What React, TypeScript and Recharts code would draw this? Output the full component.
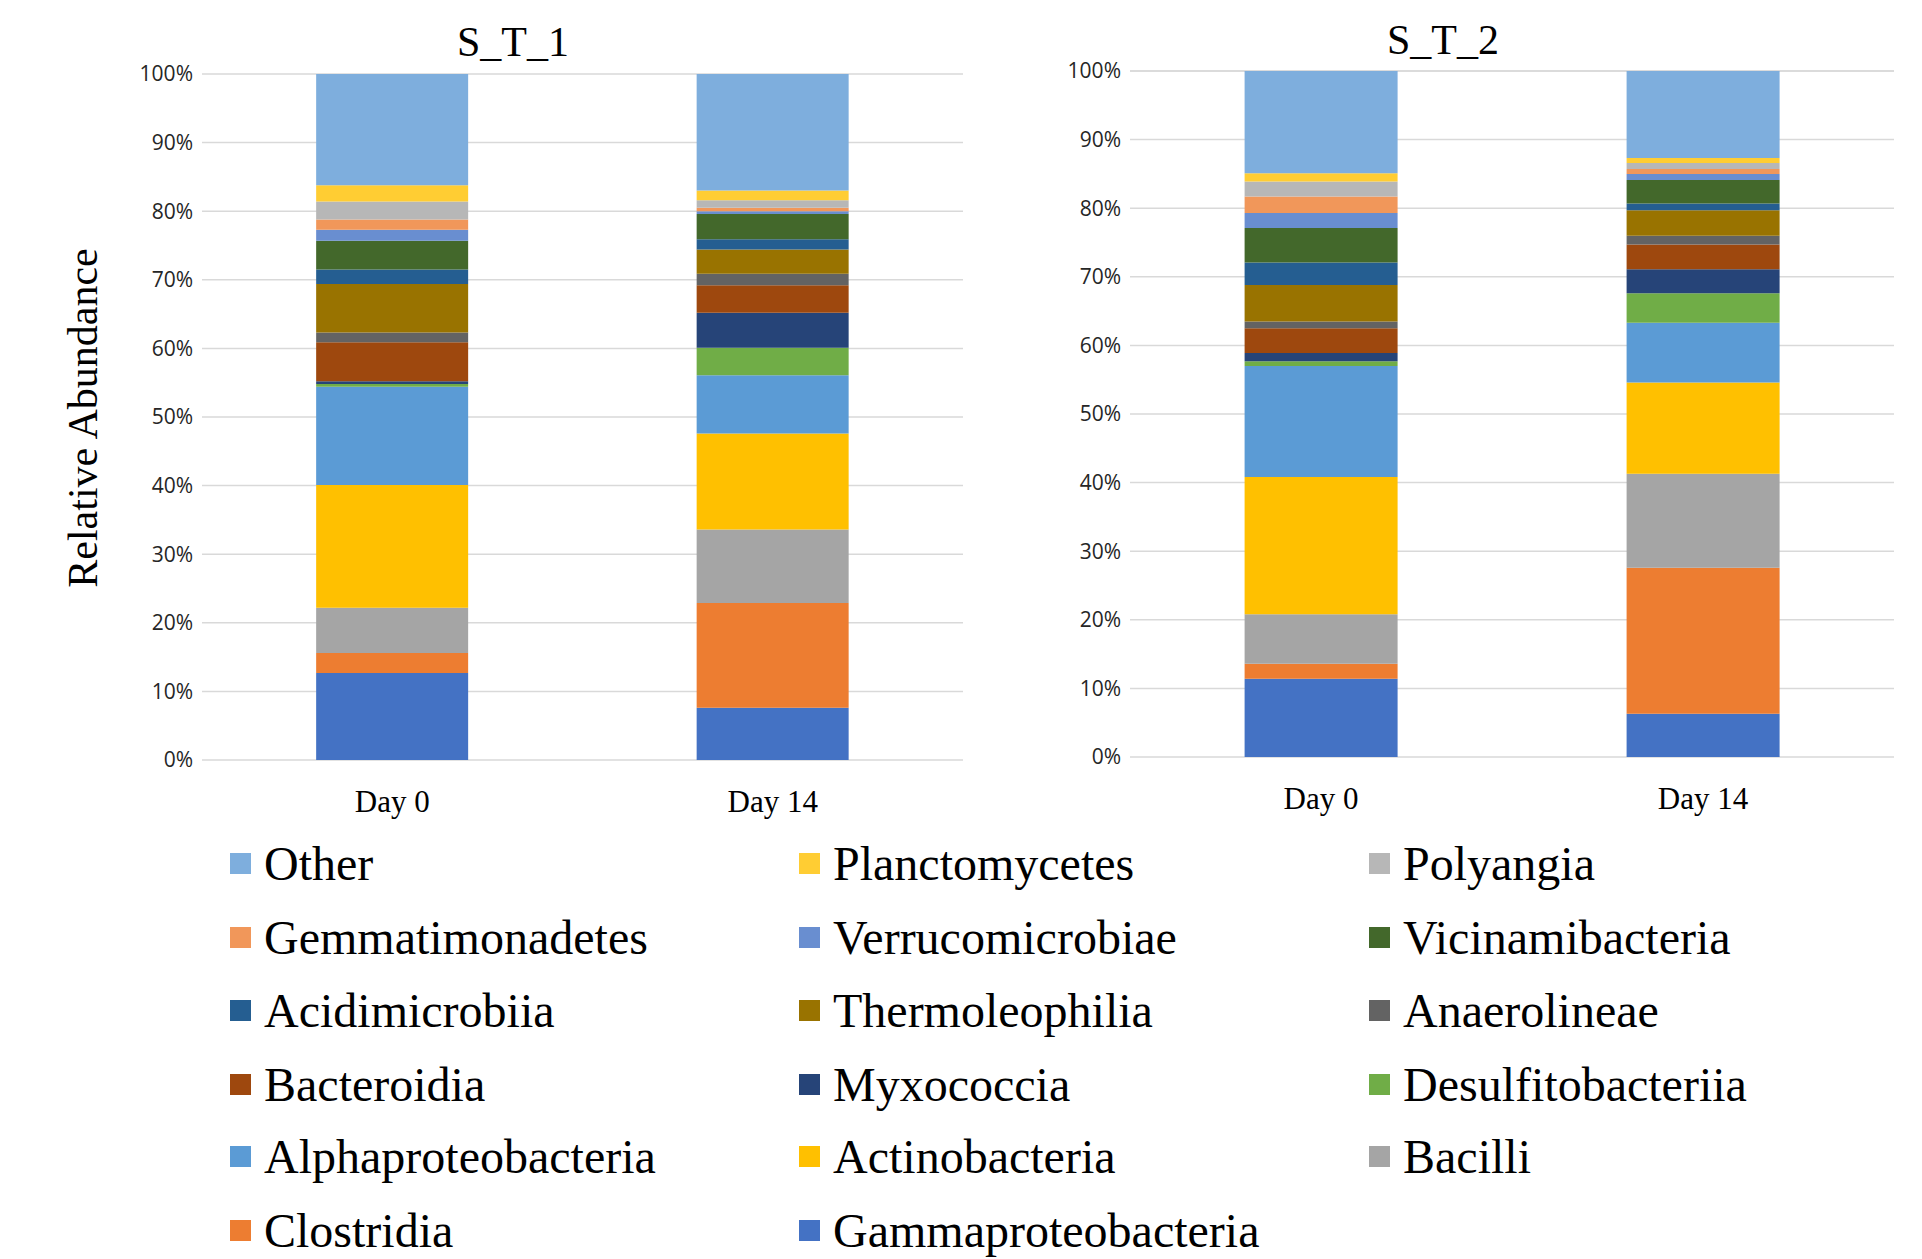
import React from 'react';
import { BarChart, Bar, XAxis, YAxis, CartesianGrid } from 'recharts';

const categories = ['Day 0', 'Day 14'];

// stack order: bottom -> top
const taxa = [
  'Gammaproteobacteria',
  'Clostridia',
  'Bacilli',
  'Actinobacteria',
  'Alphaproteobacteria',
  'Desulfitobacteriia',
  'Myxococcia',
  'Bacteroidia',
  'Anaerolineae',
  'Thermoleophilia',
  'Acidimicrobiia',
  'Vicinamibacteria',
  'Verrucomicrobiae',
  'Gemmatimonadetes',
  'Polyangia',
  'Planctomycetes',
  'Other',
];

const colors = [
  '#4472C4',
  '#ED7D31',
  '#A5A5A5',
  '#FFC000',
  '#5B9BD5',
  '#70AD47',
  '#264478',
  '#9E480E',
  '#636363',
  '#997300',
  '#255E91',
  '#43682B',
  '#698ED0',
  '#F1975A',
  '#B7B7B7',
  '#FFCD33',
  '#7EAEDD',
];

const st1Day0 = [12.7, 2.9, 6.6, 17.9, 14.3, 0.4, 0.4, 5.7, 1.4, 7.1, 2.1, 4.2, 1.6, 1.5, 2.6, 2.4, 16.2];
const st1Day14 = [7.6, 15.3, 10.7, 14.0, 8.5, 4.0, 5.1, 4.0, 1.7, 3.5, 1.5, 3.7, 0.4, 0.5, 1.1, 1.4, 17.0];
const st2Day0 = [11.4, 2.2, 7.2, 20.0, 16.2, 0.7, 1.2, 3.6, 1.0, 5.3, 3.3, 5.0, 2.2, 2.4, 2.2, 1.2, 14.9];
const st2Day14 = [6.3, 21.3, 13.7, 13.3, 8.7, 4.3, 3.5, 3.6, 1.3, 3.7, 1.0, 3.4, 0.9, 0.7, 0.9, 0.7, 12.7];

const yTicks = [0, 10, 20, 30, 40, 50, 60, 70, 80, 90, 100];

// legend order (row-major, 3 columns)
const legendOrder = [
  'Other', 'Planctomycetes', 'Polyangia',
  'Gemmatimonadetes', 'Verrucomicrobiae', 'Vicinamibacteria',
  'Acidimicrobiia', 'Thermoleophilia', 'Anaerolineae',
  'Bacteroidia', 'Myxococcia', 'Desulfitobacteriia',
  'Alphaproteobacteria', 'Actinobacteria', 'Bacilli',
  'Clostridia', 'Gammaproteobacteria',
];

function buildRows(day0: number[], day14: number[]) {
  const cols = [day0, day14];
  return categories.map((c, ci) => {
    const row: Record<string, any> = { name: c };
    taxa.forEach((t, ti) => {
      row[t] = cols[ci][ti];
    });
    return row;
  });
}

const serif = '"Liberation Serif", "Times New Roman", serif';
const sans = '"Open Sans", "Liberation Sans", sans-serif';

function StackChart({ data, yAxisWidth, width, height, top, rightMargin, xAxisHeight }: any) {
  return (
    <BarChart
      width={width}
      height={height}
      data={data}
      margin={{ top, right: rightMargin, left: 0, bottom: 0 }}
      barCategoryGap="30%"
    >
      <CartesianGrid vertical={false} stroke="#D9D9D9" strokeWidth={1.5} />
      <XAxis
        dataKey="name"
        axisLine={false}
        tickLine={false}
        tickSize={0}
        tickMargin={30}
        height={xAxisHeight}
        tick={{ fontFamily: serif, fontSize: 31, fill: '#000' }}
      />
      <YAxis
        type="number"
        domain={[0, 100]}
        ticks={yTicks}
        interval={0}
        width={yAxisWidth}
        axisLine={false}
        tickLine={false}
        tickSize={0}
        tickMargin={9}
        tickFormatter={(v: number) => `${v}%`}
        tick={{ fontFamily: sans, fontSize: 21, fill: '#262626' }}
      />
      {taxa.map((t, i) => (
        <Bar key={t} dataKey={t} stackId="a" fill={colors[i]} isAnimationActive={false} />
      ))}
    </BarChart>
  );
}

export default function App() {
  const data1 = buildRows(st1Day0, st1Day14);
  const data2 = buildRows(st2Day0, st2Day14);
  const colX = [230, 799, 1369];
  const rowY = [864, 938, 1011, 1085, 1157, 1231];
  return (
    <div style={{ position: 'absolute', left: 0, top: 0, width: 1922, height: 1259, background: '#fff' }}>
      <div style={{ position: 'absolute', left: 0, top: 0 }}>
        <StackChart data={data1} yAxisWidth={202} width={980} height={830} top={74} rightMargin={17} xAxisHeight={70} />
      </div>
      <div style={{ position: 'absolute', left: 960, top: 0 }}>
        <StackChart data={data2} yAxisWidth={170} width={960} height={830} top={71} rightMargin={26} xAxisHeight={73} />
      </div>
      <div
        style={{
          position: 'absolute', left: 513 - 150, width: 300, top: 14, textAlign: 'center',
          fontFamily: serif, fontSize: 42, lineHeight: '56px', color: '#000',
        }}
      >
        S_T_1
      </div>
      <div
        style={{
          position: 'absolute', left: 1443 - 150, width: 300, top: 12, textAlign: 'center',
          fontFamily: serif, fontSize: 42, lineHeight: '56px', color: '#000',
        }}
      >
        S_T_2
      </div>
      <div
        style={{
          position: 'absolute', left: 83 - 250, top: 418 - 28, width: 500, height: 56,
          textAlign: 'center', fontFamily: serif, fontSize: 42, lineHeight: '56px', color: '#000',
          transform: 'rotate(-90deg)', transformOrigin: '50% 50%',
        }}
      >
        Relative Abundance
      </div>
      {legendOrder.map((name, i) => {
        const c = colors[taxa.indexOf(name)];
        const x = colX[i % 3];
        const y = rowY[Math.floor(i / 3)];
        return (
          <div
            key={name}
            style={{
              position: 'absolute', left: x, top: y - 31, height: 60, display: 'flex', alignItems: 'center',
              fontFamily: serif, fontSize: 48, color: '#000', whiteSpace: 'nowrap',
            }}
          >
            <span style={{ display: 'inline-block', width: 21, height: 21, background: c, marginRight: 13 }} />
            <span>{name}</span>
          </div>
        );
      })}
    </div>
  );
}
